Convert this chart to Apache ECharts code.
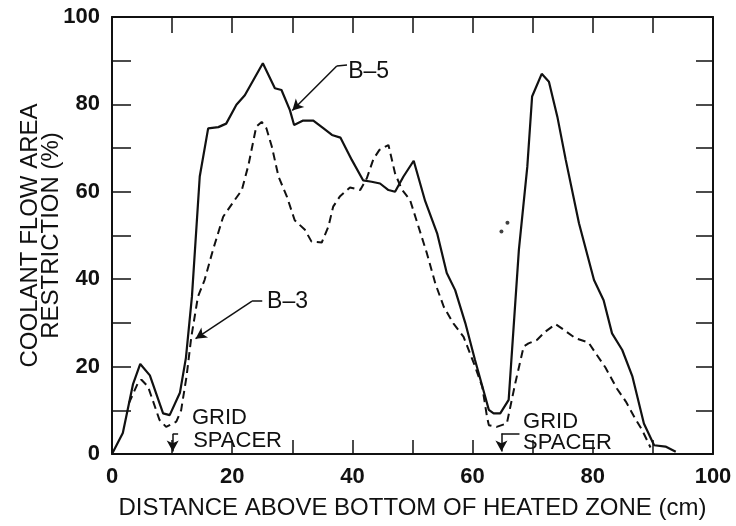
<!DOCTYPE html>
<html>
<head>
<meta charset="utf-8">
<script src="https://cdn.jsdelivr.net/npm/echarts@6/dist/echarts.min.js"></script>
<style>
html,body{margin:0;padding:0;background:#fff;}
#c{width:736px;height:526px;}
</style>
</head>
<body>
<div id="c"></div>
<script>
// ---- Data ----
const xTicks = [0, 20, 40, 60, 80, 100];
const yTicks = [0, 20, 40, 60, 80, 100];

const b5X = [0, 1.8, 3.5, 4.7, 6.3, 8.5, 9.6, 11.3, 12.3, 13.3, 14.6, 16, 17.7, 19, 20.7, 22.1, 25.1, 27.1, 28.2, 29.6, 30.3, 31.8, 33.5, 35.2, 36.6, 38, 39.9, 41.8, 43.2, 44.6, 46, 47.1, 48.5, 50.2, 52.1, 54.1, 55.7, 57.1, 58.8, 60.4, 62.1, 62.7, 63.5, 64.6, 66, 67.7, 69.1, 69.9, 71.5, 72.7, 74.1, 75.5, 77.7, 80.2, 81.8, 83.2, 84.9, 86.6, 88.5, 90.2, 92.1, 93.8];
const b5Y = [0, 4.8, 16, 20.6, 18, 9.3, 8.9, 14, 22, 36, 63.5, 74.5, 74.8, 75.6, 79.9, 82.1, 89.4, 83.7, 83.3, 78.7, 75.3, 76.3, 76.3, 74.5, 73, 72.4, 67.3, 62.6, 62.3, 61.9, 60.4, 60, 63.5, 67.1, 57.9, 50.5, 41.4, 37.5, 29.9, 21.5, 13.1, 10.1, 9.3, 9.3, 12.4, 46.7, 65.7, 81.8, 87, 85.2, 77.2, 67.3, 52.8, 39.8, 35.2, 27.6, 23.8, 17.7, 7, 2, 1.7, 0.5];

const b3X = [2.8, 4.3, 4.9, 6, 7.9, 9, 10.7, 11.5, 12.4, 13.2, 14.3, 15.4, 16.8, 18.5, 20.2, 21.6, 22.7, 24, 24.9, 25.7, 26.6, 27.7, 29.1, 30.4, 32.1, 33.2, 34.9, 36, 36.8, 37.9, 39.6, 41.3, 42.4, 43.5, 44.5, 46, 47.1, 48.2, 49.6, 51, 52.4, 53.8, 55.2, 56.8, 58.5, 60.2, 61.6, 62.4, 62.7, 64, 65.7, 67.1, 68.5, 69.3, 70.7, 72.1, 73.8, 75.2, 77.1, 79.3, 80.5, 82.1, 84, 85.5, 87.1, 88.2, 89.6];
const b3Y = [11.6, 16.2, 17, 15.4, 7.8, 6.2, 7.4, 10, 17.7, 26.8, 36, 39.8, 46.7, 54.3, 57.7, 60.4, 66.1, 74.9, 76, 74.5, 70.3, 63.5, 58.9, 53.5, 51.3, 48.6, 48.4, 52, 56.6, 58.9, 61, 60.4, 63.1, 67.5, 69.6, 70.7, 64.2, 60.6, 58.1, 52, 45.9, 39, 33.7, 29.9, 26.8, 20.8, 15.4, 8.5, 6.6, 6.2, 7, 16.2, 24.6, 25.3, 26.1, 28, 29.7, 28.4, 26.5, 25.5, 23, 19.8, 15, 12, 8, 5.5, 1.5];

const dotX = [64.8, 65.8];
const dotY = [50.9, 52.9];

const seriesNames = ['B–5', 'B–3'];
const gridText = ['GRID', 'SPACER'];

// ---- Chart ----
const FONT = '"Liberation Sans", Arial, Helvetica, sans-serif';
const INK = '#111';
const chart = echarts.init(document.getElementById('c'), null, {renderer: 'canvas'});

const pairs = (xs, ys) => xs.map((x, i) => [x, ys[i]]);
const labelFmt = v => (xTicks.indexOf(v) >= 0 ? String(v) : '');
const labelFmtY = v => (yTicks.indexOf(v) >= 0 ? String(v) : '');

const axisLine = {show: true, onZero: false, lineStyle: {color: INK, width: 2}};

const option = {
  animation: false,
  backgroundColor: '#fff',
  grid: {left: 112, right: 23, top: 17, bottom: 72, containLabel: false},
  xAxis: [
    {
      type: 'value', min: 0, max: 100, interval: 10, position: 'bottom',
      axisLine: axisLine,
      axisTick: {show: true, inside: true, length: 14, lineStyle: {color: INK, width: 1.5}},
      axisLabel: {formatter: labelFmt, fontSize: 22, fontWeight: 'bold', margin: 12, color: INK, fontFamily: FONT},
      splitLine: {show: false},
      name: 'DISTANCE ABOVE BOTTOM OF HEATED ZONE (cm)',
      nameLocation: 'middle', nameGap: 42, nameMoveOverlap: false,
      nameTextStyle: {fontSize: 24, color: INK, fontFamily: FONT}
    },
    {
      type: 'value', min: 0, max: 100, interval: 10, position: 'top',
      axisLine: axisLine,
      axisTick: {show: true, inside: true, length: 16, lineStyle: {color: INK, width: 1.5}},
      axisLabel: {show: false}, splitLine: {show: false}
    }
  ],
  yAxis: [
    {
      type: 'value', min: 0, max: 100, interval: 10, position: 'left',
      axisLine: axisLine,
      axisTick: {show: true, inside: true, length: 19, lineStyle: {color: INK, width: 1.5}},
      axisLabel: {formatter: labelFmtY, fontSize: 22, fontWeight: 'bold', margin: 12, color: INK, fontFamily: FONT},
      splitLine: {show: false},
      name: 'COOLANT FLOW AREA\nRESTRICTION (%)',
      nameLocation: 'middle', nameGap: 50, nameMoveOverlap: false,
      nameTextStyle: {fontSize: 24, lineHeight: 21, color: INK, fontFamily: FONT, align: 'center'}
    },
    {
      type: 'value', min: 0, max: 100, interval: 10, position: 'right',
      axisLine: axisLine,
      axisTick: {show: true, inside: true, length: 17, lineStyle: {color: INK, width: 1.5}},
      axisLabel: {show: false}, splitLine: {show: false}
    }
  ],
  series: [
    {
      name: seriesNames[0], type: 'line', data: pairs(b5X, b5Y),
      showSymbol: false, smooth: false, z: 3,
      lineStyle: {color: INK, width: 2.2, type: 'solid'},
      markLine: {
        silent: true, animation: false,
        lineStyle: {color: INK, width: 1.5, type: 'solid'},
        label: {show: false},
        symbolSize: [9, 11],
        data: [
          [{coord: [39.1, 89.0], symbol: 'none'}, {coord: [37.4, 88.8], symbol: 'none'}],
          [{coord: [37.4, 88.8], symbol: 'none'}, {coord: [30.0, 78.6], symbol: 'arrow'}]
        ]
      }
    },
    {
      name: seriesNames[1], type: 'line', data: pairs(b3X, b3Y),
      showSymbol: false, smooth: false, z: 2,
      lineStyle: {color: INK, width: 2, type: [8, 5]},
      markLine: {
        silent: true, animation: false,
        lineStyle: {color: INK, width: 1.5, type: 'solid'},
        label: {show: false},
        symbolSize: [9, 11],
        data: [
          [{coord: [25.0, 35.0], symbol: 'none'}, {coord: [23.3, 35.0], symbol: 'none'}],
          [{coord: [23.3, 35.0], symbol: 'none'}, {coord: [13.9, 26.4], symbol: 'arrow'}],
          [{coord: [10.1, 4.6], symbol: 'none'}, {coord: [11.0, 4.6], symbol: 'none'}],
          [{coord: [10.1, 4.6], symbol: 'none'}, {coord: [10.1, 0.6], symbol: 'arrow'}],
          [{coord: [64.8, 4.7], symbol: 'none'}, {coord: [67.8, 4.7], symbol: 'none'}],
          [{coord: [64.8, 4.7], symbol: 'none'}, {coord: [64.8, 0.6], symbol: 'arrow'}]
        ]
      }
    },
    {
      name: 'dots', type: 'scatter', data: pairs(dotX, dotY),
      symbolSize: 4, itemStyle: {color: INK}, silent: true
    }
  ]
};
chart.setOption(option);

// Text annotations placed through the chart's own coordinate conversion
function px(x, y) { return chart.convertToPixel({gridIndex: 0}, [x, y]); }
function txt(str, x, y, size) {
  const p = px(x, y);
  return {type: 'text', x: p[0], y: p[1], silent: true, z: 10,
    style: {text: str, fill: INK, font: size + 'px ' + FONT, textAlign: 'left', textVerticalAlign: 'middle'}};
}
chart.setOption({
  graphic: [
    txt(seriesNames[0], 39.3, 87.5, 23),
    txt(seriesNames[1], 25.8, 34.8, 23),
    txt(gridText[0], 13.3, 8.2, 22),
    txt(gridText[1], 13.5, 3.0, 22),
    txt(gridText[0], 68.4, 7.3, 22),
    txt(gridText[1], 68.4, 2.5, 22)
  ]
});
</script>
</body>
</html>
